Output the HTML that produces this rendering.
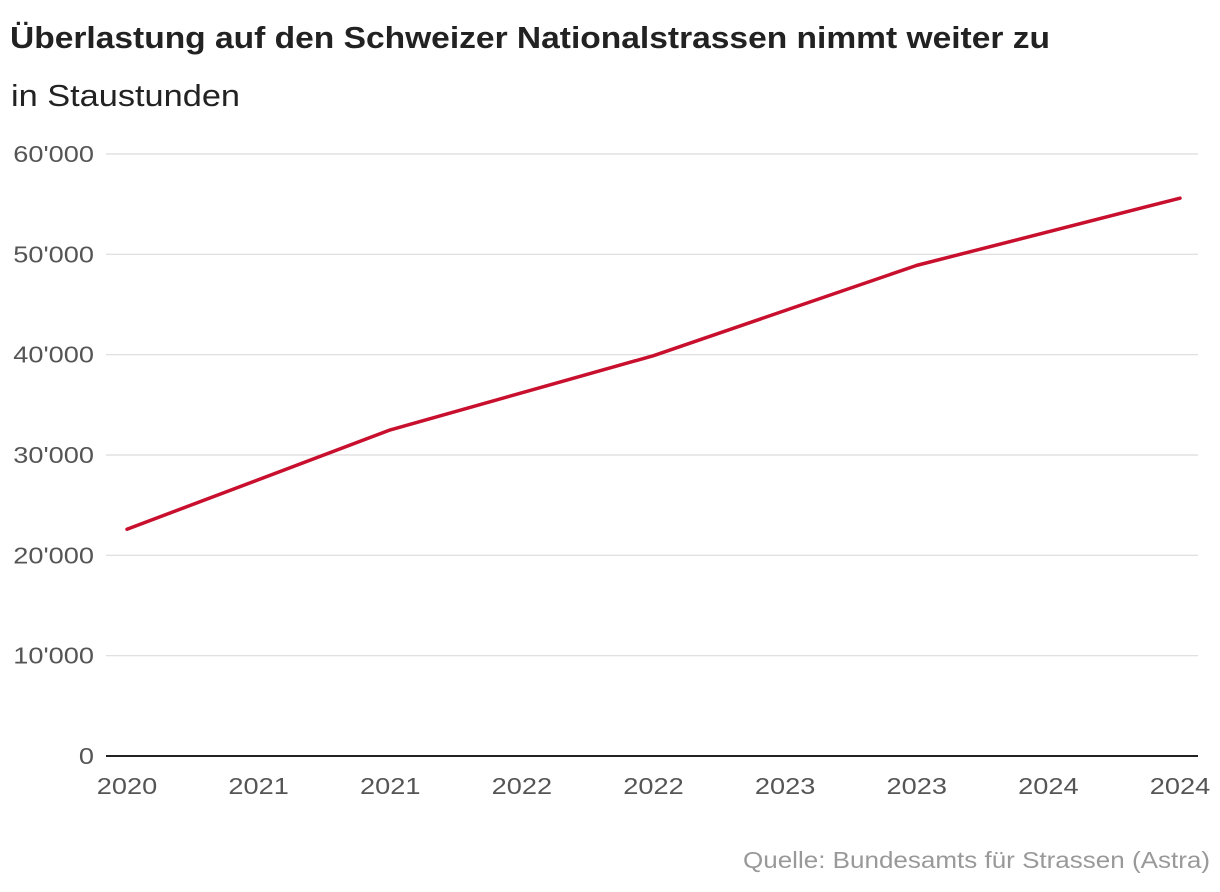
<!DOCTYPE html>
<html><head><meta charset="utf-8">
<style>
html,body{margin:0;padding:0;background:#fff;}
body{width:1220px;height:892px;overflow:hidden;font-family:"Liberation Sans","DejaVu Sans",sans-serif;}
svg{display:block;}
</style></head>
<body>
<svg width="1220" height="892" id="chart">
<text x="10" y="48" font-size="31" font-weight="bold" fill="#222" textLength="1040" lengthAdjust="spacingAndGlyphs">Überlastung auf den Schweizer Nationalstrassen nimmt weiter zu</text>
<text x="11" y="106" font-size="31" fill="#222" textLength="229" lengthAdjust="spacingAndGlyphs">in Staustunden</text>
<g id="grid"></g>
<g id="series"></g>
<text x="1210" y="868" font-size="23" fill="#999" text-anchor="end" textLength="467" lengthAdjust="spacingAndGlyphs">Quelle: Bundesamts für Strassen (Astra)</text>
</svg>
<script>
const years = [2020, 2021, 2022, 2023, 2024];
const stauhours = [22600, 32500, 39900, 48900, 55600];
const yTicks = [0, 10000, 20000, 30000, 40000, 50000, 60000];
const yTickLabels = ["0", "10'000", "20'000", "30'000", "40'000", "50'000", "60'000"];
const xTicks = [2020, 2020.5, 2021, 2021.5, 2022, 2022.5, 2023, 2023.5, 2024];
const xTickLabels = ["2020", "2021", "2021", "2022", "2022", "2023", "2023", "2024", "2024"];

const NS = "http://www.w3.org/2000/svg";
const x = v => 127 + (v - 2020) / 4 * (1180 - 127);
const y = v => 756 - v / 60000 * (756 - 154);
const grid = document.getElementById('grid');
const series = document.getElementById('series');
function mk(tag, attrs, parent) {
  const e = document.createElementNS(NS, tag);
  for (const k in attrs) e.setAttribute(k, attrs[k]);
  parent.appendChild(e);
  return e;
}
function widen(t) {
  const w = t.getComputedTextLength();
  t.setAttribute('textLength', (w * 1.18).toFixed(1));
  t.setAttribute('lengthAdjust', 'spacingAndGlyphs');
}
yTicks.forEach((t, i) => {
  const l = mk('line', {x1: 106, x2: 1198, y1: y(t), y2: y(t), stroke: t === 0 ? '#222' : '#dcdcdc', 'stroke-width': t === 0 ? 2 : 1.2}, grid);
  
  
  const tx = mk('text', {x: 94, y: y(t) + 8, 'font-size': 23, fill: '#555', 'text-anchor': 'end'}, grid);
  tx.textContent = yTickLabels[i];
  
  
  widen(tx);
});
xTicks.forEach((t, i) => {
  const tx = mk('text', {x: x(t), y: 794, 'font-size': 23, fill: '#555', 'text-anchor': 'middle'}, grid);
  tx.textContent = xTickLabels[i];
  
  
  widen(tx);
});
const d = years.map((yr, i) => (i ? 'L' : 'M') + x(yr) + ',' + y(stauhours[i])).join(' ');
const p = mk('path', {d: d, fill: 'none', stroke: '#c8102e', 'stroke-width': 3.5, 'stroke-linejoin': 'round', 'stroke-linecap': 'round'}, series);


</script>
</body></html>
